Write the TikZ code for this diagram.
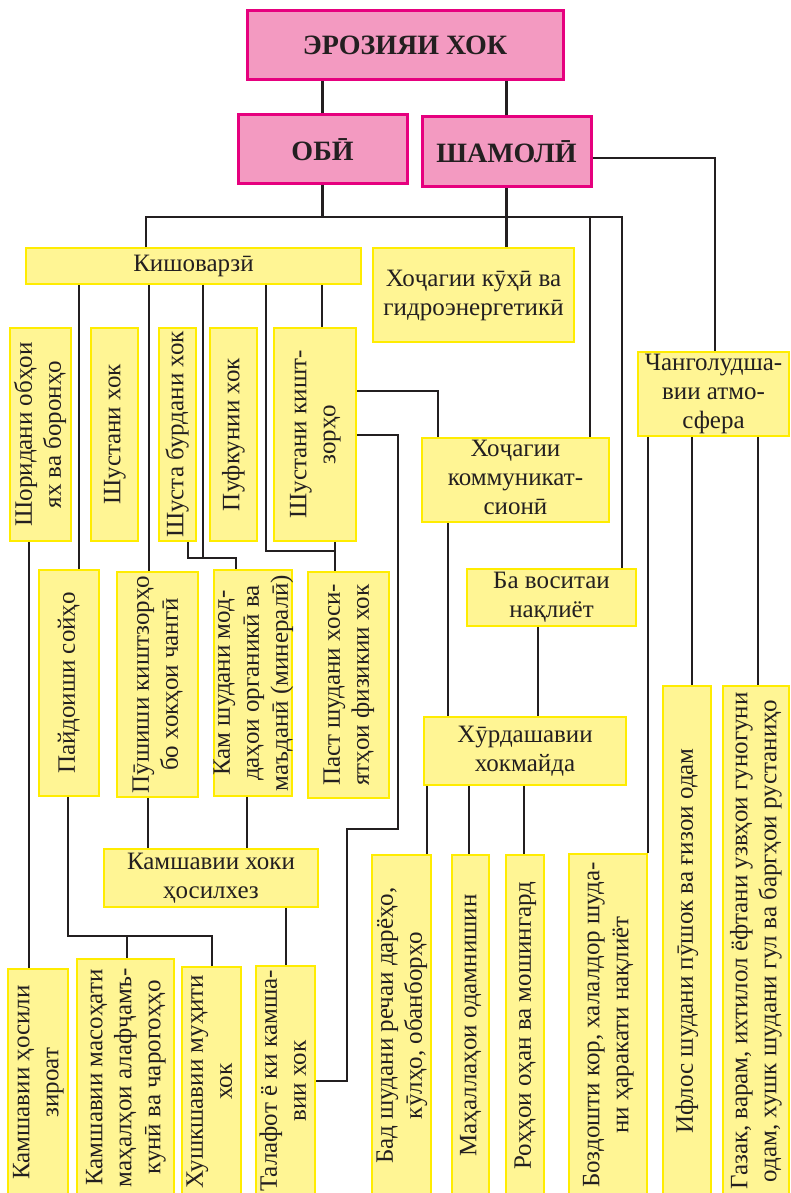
\documentclass[tikz,border=0pt]{standalone}
\usepackage{fontspec}
\setmainfont{Liberation Serif}
\usepackage{graphicx}
\definecolor{rozafill}{HTML}{F39AC1}
\definecolor{rozaline}{HTML}{E6007E}
\definecolor{zardfill}{HTML}{FFF594}
\definecolor{zardline}{HTML}{FFEC00}
\definecolor{khat}{HTML}{231F20}

\newsavebox\matnbox
\newcommand\matn[1]{\sbox\matnbox{#1}\makebox[0pt]{\raisebox{\dimexpr(\dp\matnbox-\ht\matnbox)/2\relax}[0pt][0pt]{\usebox\matnbox}}}
\newcommand\ufuqi[1]{\matn{\begin{tabular}{@{}c@{}}#1\end{tabular}}}
\newcommand\amudi[1]{\matn{\rotatebox{90}{\begin{tabular}{@{}c@{}}#1\end{tabular}}}}

\begin{document}
\begin{tikzpicture}[x=1pt,y=-1pt,
	pinkbox/.style={draw=rozaline,fill=rozafill,line width=3pt,inner sep=0pt,
		text=khat,font=\fontsize{28}{32}\selectfont\bfseries},
	yellowbox/.style={draw=zardline,fill=zardfill,line width=1.5pt,inner sep=0pt,
		text=khat,font=\fontsize{25}{29}\selectfont},
	link/.style={draw=khat,line width=2.2pt}]
	\path[use as bounding box,fill=white] (0,0) rectangle (790,1193);

	% эрозия ва ду навъи он
	\node[pinkbox,minimum width=316,minimum height=69] (eros) at (405,45.5) {ЭРОЗИЯИ ХОК};
	\node[pinkbox,minimum width=169,minimum height=69] (obi) at (322.5,149.5) {ОБӢ};
	\node[pinkbox,minimum width=169,minimum height=70] (shamol) at (506.5,152) {ШАМОЛӢ};

	\begin{scope}[every node/.style={yellowbox}]
		% upper row
		\node[minimum width=335,minimum height=36] (kishov) at (193.5,266) {\ufuqi{Кишоварзӣ}};
		\node[minimum width=201,minimum height=94] (kuhi) at (473.5,295) {\ufuqi{Хоҷагии кӯҳӣ ва\\гидроэнергетикӣ}};
		\node[minimum width=151,minimum height=84] (chang) at (713.5,394) {\ufuqi{Чанголудша-\\вии атмо-\\сфера}};
		\node[minimum width=187,minimum height=84] (komm) at (515.5,480) {\ufuqi{Хоҷагии\\коммуникат-\\сионӣ}};
		\node[minimum width=169,minimum height=57] (naql) at (551.5,597.5) {\ufuqi{Ба воситаи\\нақлиёт}};
		\node[minimum width=202,minimum height=68] (khurd) at (525,751) {\ufuqi{Хӯрдашавии\\хокмайда}};
		\node[minimum width=214,minimum height=58] (hosil) at (211,878) {\ufuqi{Камшавии хоки\\ҳосилхез}};

		% columns under Кишоварзӣ
		\node[minimum width=61,minimum height=213] (shor) at (40.5,434.5) {\amudi{Шоридани обҳои\\ях ва боронҳо}};
		\node[minimum width=47,minimum height=213] (shust) at (114.5,434.5) {\amudi{Шустани хок}};
		\node[minimum width=37,minimum height=213] (burd) at (177.5,434.5) {\amudi{Шуста бурдани хок}};
		\node[minimum width=47,minimum height=213] (puf) at (233.5,434.5) {\amudi{Пуфкунии хок}};
		\node[minimum width=82,minimum height=213] (kisht) at (315,434.5) {\amudi{Шустани кишт-\\зорҳо}};
		\node[minimum width=60,minimum height=226] (soy) at (69,683) {\amudi{Пайдоиши сойҳо}};
		\node[minimum width=81,minimum height=225] (push) at (157.5,684.5) {\amudi{Пӯшиши киштзорҳо\\бо хокҳои чангӣ}};
		\node[minimum width=78,minimum height=226] (modda) at (253,683) {\amudi{Кам шудани мод-\\даҳои органикӣ ва\\маъданӣ (минералӣ)}};
		\node[minimum width=81,minimum height=226] (xos) at (348.5,685) {\amudi{Паст шудани хоси-\\ятҳои физикии хок}};

		% bottom row
		\node[minimum width=60,minimum height=227] (zir) at (38,1082.5) {\amudi{Камшавии ҳосили\\зироат}};
		\node[minimum width=97,minimum height=237] (mas) at (125.5,1077.5) {\amudi{Камшавии масоҳати\\маҳалҳои алафҷамъ-\\кунӣ ва чарогоҳҳо}};
		\node[minimum width=59,minimum height=229] (khush) at (211.5,1081.5) {\amudi{Хушкшавии муҳити\\хок}};
		\node[minimum width=59,minimum height=230] (tal) at (285.5,1081) {\amudi{Талафот ё ки камша-\\вии хок}};
		\node[minimum width=59,minimum height=341] (bad) at (401.5,1025.5) {\amudi{Бад шудани речаи дарёҳо,\\кӯлҳо, обанборҳо}};
		\node[minimum width=37,minimum height=341] (mah) at (470.5,1025.5) {\amudi{Маҳаллаҳои одамнишин}};
		\node[minimum width=38,minimum height=341] (roh) at (525,1025.5) {\amudi{Роҳҳои оҳан ва мошингард}};
		\node[minimum width=78,minimum height=342] (bozd) at (608,1025) {\amudi{Боздошти кор, халалдор шуда-\\ни ҳаракати нақлиёт}};
		\node[minimum width=48,minimum height=510] (iflos) at (687,941) {\amudi{Ифлос шудани пӯшок ва ғизои одам}};
		\node[minimum width=66,minimum height=510] (gazak) at (756,941) {\amudi{Газак, варам, ихтилол ёфтани узвҳои гуногуни\\одам, хушк шудани гул ва баргҳои рустаниҳо}};
	\end{scope}

	\begin{scope}[every path/.style={link}]
		% top
		\coordinate (busL) at (146,217);
		\coordinate (busR) at (622,217);
		\draw (obi.north) -- (obi.north |- eros.south);
		\draw (shamol.north) -- (shamol.north |- eros.south);
		\draw (obi.south) -- (obi.south |- busL);
		\draw (busL |- kishov.north) |- (busR) -- (busR |- naql.north);
		\draw (shamol.south) -- (shamol.south |- kuhi.north);
		\draw (590,0 |- busL) -- (590,0 |- komm.north);
		\draw (shamol.east |- 0,158) -| (715,0 |- chang.north);

		% Кишоварзӣ
		\draw (79,0 |- kishov.south) -- (79,0 |- soy.north);
		\draw (149,0 |- kishov.south) -- (149,0 |- push.north);
		\draw (203,0 |- kishov.south) |- (236,558) -- (236,0 |- modda.north);
		\draw (188,0 |- burd.south) |- (203,558);
		\draw (266,0 |- kishov.south) |- (335,551);
		\draw (322,0 |- kishov.south) -- (322,0 |- kisht.north);
		\draw (335,0 |- kisht.south) -- (335,0 |- xos.north);
		\draw (kisht.east |- 0,391) -| (438,0 |- komm.north);
		\draw (kisht.east |- 0,435) -| (398,829) -| (347,1081) -- (tal.east |- 0,1081);

		% lower left
		\draw (29,0 |- shor.south) -- (29,0 |- zir.north);
		\draw (68,0 |- soy.south) |- (212,936) -- (212,0 |- khush.north);
		\draw (127,936) -- (127,0 |- mas.north);
		\draw (148,0 |- push.south) -- (148,0 |- hosil.north);
		\draw (247,0 |- modda.south) -- (247,0 |- hosil.north);
		\draw (286,0 |- hosil.south) -- (286,0 |- tal.north);

		% lower right
		\draw (448,0 |- komm.south) -- (448,0 |- khurd.north);
		\draw (538,0 |- naql.south) -- (538,0 |- khurd.north);
		\draw (427,0 |- khurd.south) -- (427,0 |- bad.north);
		\draw (469,0 |- khurd.south) -- (469,0 |- mah.north);
		\draw (524,0 |- khurd.south) -- (524,0 |- roh.north);
		\draw (648,0 |- chang.south) -- (648,0 |- bozd.north);
		\draw (692,0 |- chang.south) -- (692,0 |- iflos.north);
		\draw (758,0 |- chang.south) -- (758,0 |- gazak.north);
	\end{scope}
\end{tikzpicture}
\end{document}
